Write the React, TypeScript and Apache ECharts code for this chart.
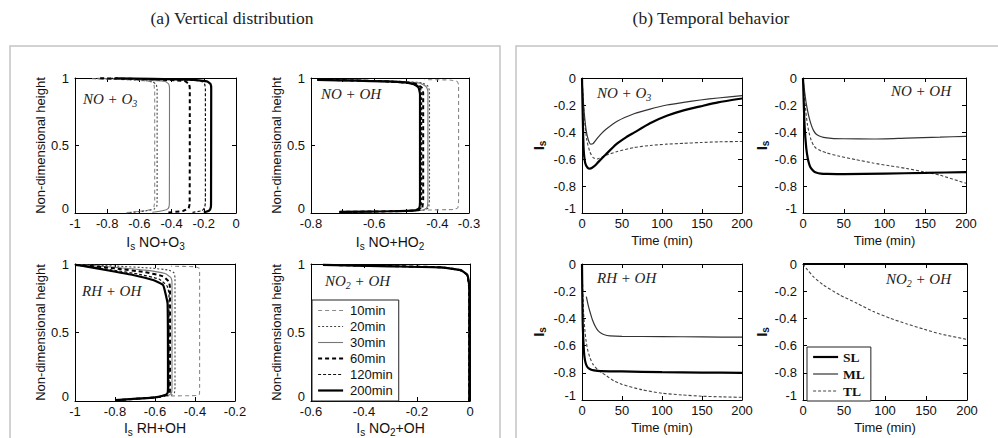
import React, { useEffect, useRef } from 'react';
import * as echarts from 'echarts';

// ---------- (a) Vertical distribution : [I_s, non-dimensional height] ----------
const TIMES = ['10min', '20min', '30min', '60min', '120min', '200min'];

// NO + O3
const a1_10 = [[-0.68, 0.003], [-0.6, 0.012], [-0.53, 0.025], [-0.51, 0.045], [-0.505, 0.1], [-0.505, 0.9], [-0.51, 0.95], [-0.53, 0.972], [-0.62, 0.985], [-0.9, 0.995]];
const a1_20 = [[-0.66, 0.004], [-0.57, 0.014], [-0.51, 0.028], [-0.492, 0.05], [-0.49, 0.1], [-0.49, 0.91], [-0.495, 0.95], [-0.52, 0.975], [-0.65, 0.987], [-0.88, 0.996]];
const a1_30 = [[-0.52, 0.005], [-0.45, 0.018], [-0.42, 0.035], [-0.414, 0.07], [-0.413, 0.92], [-0.418, 0.955], [-0.44, 0.975], [-0.6, 0.988], [-0.86, 0.997]];
const a1_60 = [[-0.42, 0.004], [-0.33, 0.015], [-0.295, 0.035], [-0.288, 0.07], [-0.287, 0.92], [-0.292, 0.955], [-0.32, 0.977], [-0.5, 0.99], [-0.85, 0.998]];
const a1_120 = [[-0.27, 0.005], [-0.21, 0.018], [-0.195, 0.04], [-0.19, 0.08], [-0.19, 0.92], [-0.195, 0.955], [-0.22, 0.978], [-0.4, 0.99], [-0.8, 0.998]];
const a1_200 = [[-0.2, 0.004], [-0.165, 0.02], [-0.156, 0.045], [-0.155, 0.08], [-0.154, 0.92], [-0.158, 0.955], [-0.18, 0.975], [-0.3, 0.988], [-0.75, 0.998]];

// NO + OH
const a2_10 = [[-0.43, 0.022], [-0.345, 0.027], [-0.335, 0.04], [-0.333, 0.1], [-0.333, 0.95], [-0.338, 0.975], [-0.36, 0.985], [-0.44, 0.988]];
const a2_20 = [[-0.7, 0.008], [-0.5, 0.014], [-0.44, 0.022], [-0.428, 0.04], [-0.425, 0.1], [-0.425, 0.9], [-0.43, 0.94], [-0.45, 0.965], [-0.55, 0.978], [-0.77, 0.99]];
const a2_30 = [[-0.7, 0.008], [-0.5, 0.014], [-0.445, 0.022], [-0.433, 0.04], [-0.43, 0.1], [-0.43, 0.9], [-0.435, 0.935], [-0.455, 0.962], [-0.56, 0.977], [-0.77, 0.988]];
const a2_60 = [[-0.71, 0.008], [-0.52, 0.014], [-0.46, 0.021], [-0.448, 0.04], [-0.445, 0.1], [-0.445, 0.89], [-0.45, 0.93], [-0.47, 0.958], [-0.57, 0.976], [-0.78, 0.987]];
const a2_120 = [[-0.71, 0.008], [-0.53, 0.013], [-0.465, 0.02], [-0.452, 0.037], [-0.45, 0.1], [-0.45, 0.885], [-0.455, 0.93], [-0.472, 0.956], [-0.58, 0.975], [-0.78, 0.986]];
const a2_200 = [[-0.71, 0.008], [-0.55, 0.013], [-0.47, 0.02], [-0.458, 0.035], [-0.455, 0.08], [-0.455, 0.88], [-0.46, 0.93], [-0.475, 0.955], [-0.52, 0.972], [-0.65, 0.98], [-0.78, 0.986]];

// RH + OH
const a3_10 = [[-0.52, 0.037], [-0.39, 0.04], [-0.378, 0.05], [-0.377, 0.1], [-0.377, 0.94], [-0.38, 0.97], [-0.4, 0.98], [-0.52, 0.984]];
const a3_20 = [[-0.8, 0.005], [-0.6, 0.025], [-0.52, 0.042], [-0.503, 0.06], [-0.5, 0.1], [-0.5, 0.9], [-0.505, 0.935], [-0.53, 0.955], [-0.62, 0.97], [-0.8, 0.985], [-0.98, 0.996]];
const a3_30 = [[-0.8, 0.006], [-0.6, 0.026], [-0.53, 0.043], [-0.517, 0.06], [-0.515, 0.1], [-0.515, 0.86], [-0.52, 0.9], [-0.55, 0.93], [-0.65, 0.955], [-0.82, 0.978], [-0.98, 0.995]];
const a3_60 = [[-0.8, 0.006], [-0.6, 0.026], [-0.54, 0.043], [-0.527, 0.06], [-0.525, 0.1], [-0.525, 0.82], [-0.53, 0.87], [-0.56, 0.91], [-0.65, 0.94], [-0.8, 0.968], [-0.98, 0.993]];
const a3_120 = [[-0.8, 0.006], [-0.6, 0.026], [-0.545, 0.043], [-0.532, 0.06], [-0.53, 0.1], [-0.53, 0.78], [-0.54, 0.84], [-0.58, 0.89], [-0.68, 0.925], [-0.82, 0.958], [-0.98, 0.99]];
const a3_200 = [[-0.8, 0.007], [-0.6, 0.027], [-0.55, 0.044], [-0.537, 0.06], [-0.535, 0.1], [-0.537, 0.71], [-0.55, 0.8], [-0.56, 0.847], [-0.61, 0.883], [-0.71, 0.92], [-0.825, 0.951], [-0.94, 0.981], [-1, 0.993]];

// NO2 + OH
const a4_10 = [[-0.005, 0], [-0.005, 0.8], [-0.007, 0.88], [-0.016, 0.93], [-0.045, 0.957], [-0.12, 0.973], [-0.3, 0.982], [-0.5, 0.99]];
const a4_20 = [[-0.004, 0], [-0.004, 0.8], [-0.006, 0.88], [-0.014, 0.93], [-0.042, 0.958], [-0.12, 0.975], [-0.3, 0.984], [-0.52, 0.991]];
const a4_30 = [[-0.004, 0], [-0.004, 0.8], [-0.006, 0.87], [-0.013, 0.925], [-0.04, 0.957], [-0.11, 0.975], [-0.3, 0.985], [-0.53, 0.992]];
const a4_60 = [[-0.003, 0], [-0.003, 0.8], [-0.005, 0.87], [-0.012, 0.925], [-0.038, 0.956], [-0.11, 0.976], [-0.3, 0.985], [-0.54, 0.993]];
const a4_120 = [[-0.003, 0], [-0.003, 0.8], [-0.005, 0.86], [-0.011, 0.92], [-0.036, 0.955], [-0.11, 0.976], [-0.3, 0.984], [-0.55, 0.993]];
const a4_200 = [[-0.002, 0], [-0.002, 0.8], [-0.004, 0.86], [-0.01, 0.92], [-0.035, 0.955], [-0.11, 0.975], [-0.3, 0.983], [-0.555, 0.993]];

// ---------- (b) Temporal behavior : [time (min), I_s] ----------
const LAYERS = ['SL', 'ML', 'TL'];

const b1_SL = [[0, 0], [1, -0.3], [2, -0.52], [4, -0.63], [7, -0.665], [10, -0.672], [15, -0.655], [20, -0.625], [30, -0.565], [43, -0.49], [55, -0.44], [65, -0.405], [85, -0.335], [106, -0.28], [127, -0.24], [148, -0.21], [170, -0.18], [200, -0.152]];
const b1_ML = [[0, 0], [2, -0.2], [5, -0.38], [8, -0.46], [11, -0.49], [14, -0.485], [18, -0.455], [23, -0.42], [30, -0.38], [44, -0.32], [65, -0.265], [85, -0.23], [106, -0.2], [127, -0.18], [148, -0.163], [170, -0.148], [200, -0.13]];
const b1_TL = [[0, 0], [3, -0.3], [6, -0.46], [10, -0.55], [14, -0.59], [19, -0.6], [25, -0.585], [31, -0.57], [44, -0.545], [65, -0.515], [85, -0.5], [106, -0.49], [127, -0.484], [148, -0.478], [170, -0.473], [200, -0.47]];

const b2_SL = [[0, 0], [1, -0.2], [2, -0.36], [4, -0.52], [6, -0.6], [8, -0.645], [10, -0.67], [13, -0.69], [16, -0.7], [22, -0.708], [30, -0.71], [50, -0.712], [100, -0.708], [150, -0.703], [200, -0.697]];
const b2_ML = [[0, 0], [2, -0.1], [4, -0.19], [7, -0.28], [10, -0.345], [13, -0.39], [16, -0.415], [20, -0.43], [25, -0.44], [35, -0.447], [50, -0.45], [86, -0.452], [127, -0.445], [168, -0.438], [200, -0.432]];
const b2_TL = [[0, 0], [1.2, -0.09], [3, -0.22], [5.3, -0.34], [8, -0.42], [10, -0.46], [13, -0.5], [16, -0.52], [22, -0.54], [29, -0.555], [45, -0.58], [65, -0.605], [86, -0.63], [106, -0.65], [127, -0.67], [148, -0.695], [168, -0.72], [200, -0.78]];

const b3_SL = [[0, 0], [0.8, -0.41], [2, -0.6], [3, -0.68], [4.6, -0.73], [7, -0.76], [10.8, -0.775], [15, -0.782], [23, -0.788], [50, -0.79], [100, -0.795], [150, -0.798], [200, -0.8]];
const b3_ML = [[5.4, -0.24], [8, -0.31], [10.4, -0.36], [13, -0.41], [16.7, -0.46], [20, -0.49], [23, -0.505], [28, -0.52], [35, -0.528], [50, -0.532], [100, -0.534], [150, -0.536], [200, -0.538]];
const b3_TL = [[0, 0], [1, -0.2], [2, -0.36], [3.5, -0.48], [5, -0.56], [7, -0.63], [10, -0.69], [14, -0.74], [20, -0.78], [25, -0.8], [30, -0.82], [40, -0.86], [50, -0.885], [75, -0.925], [100, -0.95], [125, -0.963], [150, -0.972], [175, -0.977], [200, -0.98]];

const b4_SL = [[0, 0], [50, 0], [100, 0], [150, 0], [200, 0]];
const b4_ML = [[0, 0], [50, 0], [100, 0], [150, 0], [200, 0]];
const b4_TL = [[0, 0], [5, -0.04], [12.6, -0.093], [24.8, -0.154], [45, -0.228], [65.8, -0.289], [86, -0.35], [106.7, -0.4], [127, -0.441], [147.8, -0.48], [168, -0.515], [200, -0.554]];

// ---------- styling / layout ----------
const SANS = '"Liberation Sans", Arial, sans-serif';
const SERIF = '"Liberation Serif", "Times New Roman", serif';

const GRIDS = [
  { left: 75, top: 78, width: 161, height: 135 },
  { left: 311, top: 78, width: 158, height: 135 },
  { left: 75, top: 264, width: 160, height: 137 },
  { left: 311, top: 264, width: 159, height: 137 },
  { left: 582, top: 78, width: 160, height: 135 },
  { left: 803, top: 78, width: 163, height: 135 },
  { left: 582, top: 264, width: 160, height: 136 },
  { left: 803, top: 264, width: 164, height: 136 },
];

const X_RANGE = [[-1, 0, 0.2], [-0.8, -0.3, 0.1], [-1, -0.2, 0.2], [-0.6, 0, 0.2], [0, 200, 50], [0, 200, 50], [0, 200, 50], [0, 200, 50]];
const Y_RANGE = [[0, 1, 0.5], [0, 1, 0.5], [0, 1, 0.5], [0, 1, 0.5], [-1, 0, 0.2], [-1, 0, 0.2], [-1, 0, 0.2], [-1, 0, 0.2]];

const X_NAMES = [
  '{a|I}{b|s}{a| NO+O}{b|3}',
  '{a|I}{b|s}{a| NO+HO}{b|2}',
  '{a|I}{b|s}{a| RH+OH}',
  '{a|I}{b|s}{a| NO}{b|2}{a|+OH}',
  'Time (min)', 'Time (min)', 'Time (min)', 'Time (min)',
];

const A_DATA = [
  [a1_10, a1_20, a1_30, a1_60, a1_120, a1_200],
  [a2_10, a2_20, a2_30, a2_60, a2_120, a2_200],
  [a3_10, a3_20, a3_30, a3_60, a3_120, a3_200],
  [a4_10, a4_20, a4_30, a4_60, a4_120, a4_200],
];
const B_DATA = [
  [b1_SL, b1_ML, b1_TL],
  [b2_SL, b2_ML, b2_TL],
  [b3_SL, b3_ML, b3_TL],
  [b4_SL, b4_ML, b4_TL],
];

const TIME_STYLE: any[] = [
  { color: '#8a8a8a', width: 1.1, type: [4, 3] },
  { color: '#444', width: 1.1, type: [2, 2] },
  { color: '#777', width: 1.1, type: 'solid' },
  { color: '#000', width: 2, type: [4, 3] },
  { color: '#111', width: 1.2, type: [3, 2] },
  { color: '#000', width: 2.2, type: 'solid' },
];
const LAYER_STYLE: any[] = [
  { color: '#000', width: 2.2, type: 'solid' },
  { color: '#333', width: 1.2, type: 'solid' },
  { color: '#444', width: 1.1, type: [3, 2] },
];

const NOTES = [
  { x: 83, y: 99, t: '{m|NO + O}{u|3}', align: 'left' },
  { x: 321, y: 94, t: '{m|NO + OH}', align: 'left' },
  { x: 82, y: 291, t: '{m|RH + OH}', align: 'left' },
  { x: 325, y: 281, t: '{m|NO}{u|2}{m| + OH}', align: 'left' },
  { x: 597, y: 93, t: '{m|NO + O}{u|3}', align: 'left' },
  { x: 951, y: 91, t: '{m|NO + OH}', align: 'right' },
  { x: 597, y: 278, t: '{m|RH + OH}', align: 'left' },
  { x: 951, y: 279, t: '{m|NO}{u|2}{m| + OH}', align: 'right' },
];

const fmt = (v: number) => String(Math.round(v * 100) / 100);

export default function App() {
  const ref = useRef<HTMLDivElement>(null);
  useEffect(() => {
    if (!ref.current) return;
    const chart = echarts.init(ref.current, undefined, { renderer: 'svg' });

    const xAxis: any[] = [];
    const yAxis: any[] = [];
    GRIDS.forEach((_, i) => {
      const [xmin, xmax, xint] = X_RANGE[i];
      const [ymin, ymax, yint] = Y_RANGE[i];
      const isA = i < 4;
      const common = {
        type: 'value',
        gridIndex: i,
        axisLine: { show: true, onZero: false, lineStyle: { color: '#000', width: 1 } },
        axisTick: { show: true, inside: true, length: 4, lineStyle: { color: '#000' } },
        splitLine: { show: false },
      };
      xAxis.push({
        ...common,
        position: 'bottom',
        min: xmin, max: xmax, interval: xint,
        axisLabel: {
          margin: 4, color: '#111', fontSize: 13, fontFamily: SANS,
          formatter: (v: number) => {
            const r = Math.round(v * 100) / 100;
            if (i === 1 && (r === -0.7 || r === -0.5)) return '';
            return fmt(v);
          },
        },
        name: X_NAMES[i],
        nameLocation: 'middle',
        nameGap: isA ? (i < 2 ? 20 : 18) : 21,
        nameTextStyle: {
          color: '#111', fontSize: 13, fontFamily: SANS,
          rich: {
            a: { fontSize: 14, lineHeight: 18, fontFamily: SANS, color: '#111' },
            b: { fontSize: 10, lineHeight: 10, verticalAlign: 'bottom', fontFamily: SANS, color: '#111' },
          },
        },
      });
      xAxis.push({
        ...common, position: 'top', min: xmin, max: xmax, interval: xint,
        axisLabel: { show: false },
      });
      const left = i % 2 === 0;
      yAxis.push({
        ...common,
        position: 'left',
        min: ymin, max: ymax, interval: yint,
        axisLabel: {
          margin: 6, color: '#111', fontSize: 13, fontFamily: SANS,
          formatter: (v: number) => {
            const r = Math.round(v * 100) / 100;
            if (r === ymin) return `{lo|${fmt(v)}}`;
            return fmt(v);
          },
          rich: {
            lo: { fontSize: 13, fontFamily: SANS, color: '#111', padding: [0, 0, 9, 0] },
          },
        },
        name: isA ? 'Non-dimensional height' : '{a|I}{b|s}',
        nameLocation: 'middle',
        nameRotate: 90,
        nameGap: isA ? 25 : (left ? 35 : 33),
        nameTextStyle: {
          color: '#111', fontSize: 13, fontFamily: SANS,
          rich: {
            a: { fontSize: 15, fontWeight: 'bold', lineHeight: 18, fontFamily: SANS, color: '#111' },
            b: { fontSize: 10, fontWeight: 'bold', lineHeight: 10, verticalAlign: 'bottom', fontFamily: SANS, color: '#111' },
          },
        },
      });
      yAxis.push({
        ...common, position: 'right', min: ymin, max: ymax, interval: yint,
        axisLabel: { show: false },
      });
    });

    const series: any[] = [];
    A_DATA.forEach((curves, g) => {
      curves.forEach((d, k) => {
        const st = TIME_STYLE[k];
        series.push({
          type: 'line', name: TIMES[k], xAxisIndex: g * 2, yAxisIndex: g * 2,
          data: d, symbol: 'none', showSymbol: false, smooth: 0.15,
          lineStyle: { color: st.color, width: st.width, type: st.type },
          itemStyle: { color: st.color },
          clip: false, z: 2 + k,
        });
      });
    });
    B_DATA.forEach((curves, g) => {
      curves.forEach((d, k) => {
        const st = LAYER_STYLE[k];
        series.push({
          type: 'line', name: LAYERS[k], xAxisIndex: (g + 4) * 2, yAxisIndex: (g + 4) * 2,
          data: d, symbol: 'none', showSymbol: false, smooth: 0.2,
          lineStyle: { color: st.color, width: st.width, type: st.type },
          itemStyle: { color: st.color },
          clip: false, z: 4 - k,
        });
      });
    });

    const graphic: any[] = [
      { type: 'rect', shape: { x: 10, y: 46, width: 490, height: 420 }, style: { fill: 'none', stroke: '#c4c4c4', lineWidth: 1.5 }, z: -1 },
      { type: 'rect', shape: { x: 516, y: 46, width: 500, height: 420 }, style: { fill: 'none', stroke: '#c4c4c4', lineWidth: 1.5 }, z: -1 },
      { type: 'text', x: 232, y: 18, style: { text: '(a) Vertical distribution', fill: '#222', font: `17.5px ${SERIF}`, align: 'center', verticalAlign: 'middle' } },
      { type: 'text', x: 711, y: 18, style: { text: '(b) Temporal behavior', fill: '#222', font: `17.5px ${SERIF}`, align: 'center', verticalAlign: 'middle' } },
      ...NOTES.map((n) => ({
        type: 'text', x: n.x, y: n.y, z: 10,
        style: {
          text: n.t, align: n.align, verticalAlign: 'middle',
          rich: {
            m: { fontSize: 15, fontStyle: 'italic', fontFamily: SERIF, fill: '#222', lineHeight: 19 },
            u: { fontSize: 10, fontStyle: 'italic', fontFamily: SERIF, fill: '#222', lineHeight: 10, verticalAlign: 'bottom' },
          },
        },
      })),
    ];

    chart.setOption({
      animation: false,
      backgroundColor: '#fff',
      grid: GRIDS.map((g) => ({ ...g, containLabel: false })),
      xAxis,
      yAxis,
      series,
      legend: [
        {
          left: 312, top: 300, orient: 'vertical', selectedMode: false,
          padding: [4, 6, 4, 5], itemGap: 3, itemWidth: 25, itemHeight: 12,
          borderColor: '#222', borderWidth: 1, backgroundColor: '#fff',
          textStyle: { fontSize: 13, fontFamily: SANS, color: '#111', padding: [0, 0, 0, 2] },
          itemStyle: { opacity: 0 },
          data: TIMES.map((t, k) => ({ name: t, lineStyle: { color: TIME_STYLE[k].color, width: TIME_STYLE[k].width, type: TIME_STYLE[k].type } })),
          z: 20,
        },
        {
          left: 807, top: 347, orient: 'vertical', selectedMode: false,
          padding: [3, 6, 3, 5], itemGap: 3, itemWidth: 25, itemHeight: 12,
          borderColor: '#222', borderWidth: 1, backgroundColor: '#fff',
          textStyle: { fontSize: 13.5, fontWeight: 'bold', fontFamily: SERIF, color: '#111' },
          itemStyle: { opacity: 0 },
          data: LAYERS.map((t, k) => ({ name: t, lineStyle: { color: LAYER_STYLE[k].color, width: LAYER_STYLE[k].width, type: LAYER_STYLE[k].type } })),
          z: 20,
        },
      ],
      graphic,
    });
    return () => chart.dispose();
  }, []);
  return <div ref={ref} style={{ position: 'fixed', left: 0, top: 0, width: 998, height: 438, background: '#fff' }} />;
}
